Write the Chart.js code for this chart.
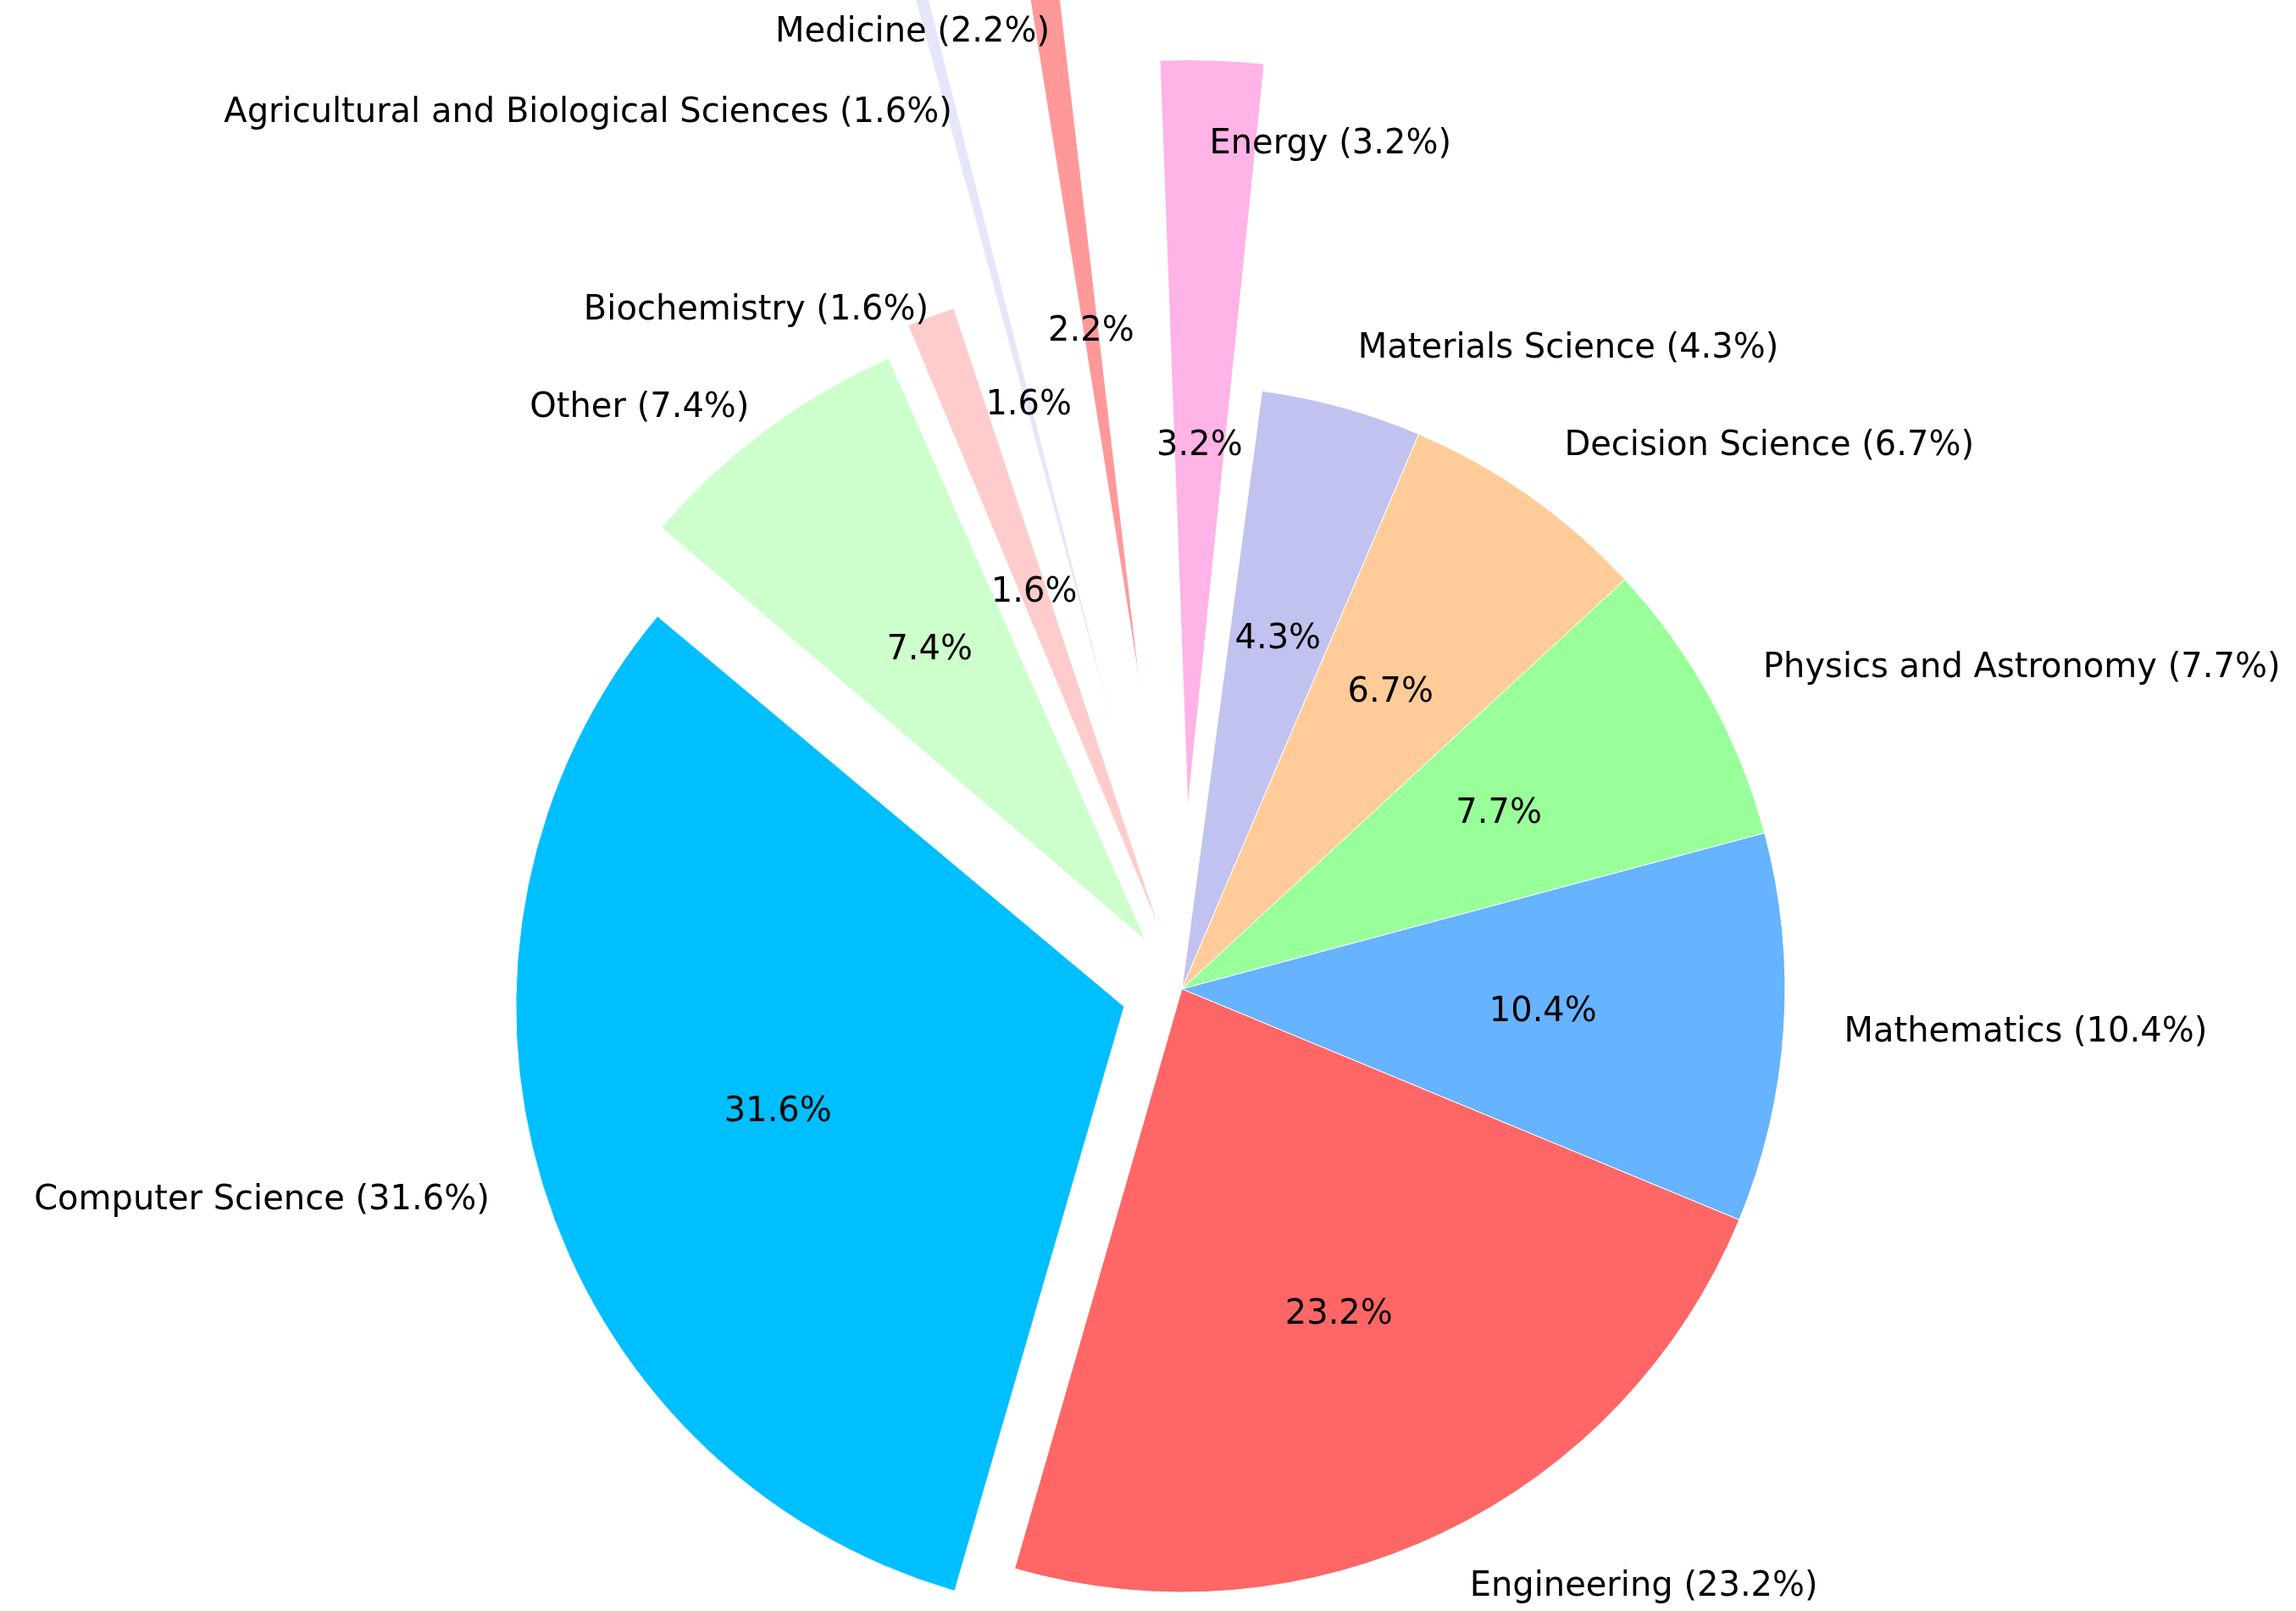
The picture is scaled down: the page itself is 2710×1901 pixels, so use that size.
<!DOCTYPE html>
<html><head><meta charset="utf-8">
<script src="https://cdn.jsdelivr.net/npm/chart.js@4/dist/chart.umd.min.js"></script>
<style>html,body{margin:0;padding:0;background:#fff}#wrap{width:2710px;height:1901px}</style>
</head><body><div id="wrap"><canvas id="c" width="2710" height="1901"></canvas></div>
<script>
const categories = ["Computer Science","Other","Biochemistry","Agricultural and Biological Sciences","Medicine","Energy","Materials Science","Decision Science","Physics and Astronomy","Mathematics","Engineering"];
const shares = [31.6,7.4,1.6,1.6,2.2,3.2,4.3,6.7,7.7,10.4,23.2];
const explode = [0.1,0.1,0.1,0.4,0.5,0.3,0,0,0,0,0];
const colors = ["#00bfff","#ccffcc","#ffcccc","#e6e6fa","#ff9999","#ffb3e6","#c2c2f0","#ffcc99","#99ff99","#66b3ff","#ff6666"];
const R = 712, OFFDIV = 4;
const FONT = "40px 'DejaVu Sans'";
const labelPlugin = {
  id:'lbl',
  afterDatasetsDraw(chart){
    const ctx = chart.ctx;
    const meta = chart.getDatasetMeta(0);
    ctx.save();
    ctx.font = FONT; ctx.fillStyle = '#000'; ctx.textBaseline = 'middle';
    meta.data.forEach((a,i)=>{
      const mid = (a.startAngle + a.endAngle)/2;
      const r = a.outerRadius;
      const off = explode[i]*r;
      const cx = a.x + Math.cos(mid)*off, cy = a.y + Math.sin(mid)*off;
      const lx = cx + Math.cos(mid)*r*1.1, ly = cy + Math.sin(mid)*r*1.1;
      ctx.textAlign = Math.cos(mid) >= 0 ? 'left' : 'right';
      ctx.fillText(categories[i] + ' (' + shares[i].toFixed(1) + '%)', lx, ly);
      ctx.textAlign = 'center';
      ctx.fillText(shares[i].toFixed(1) + '%', cx + Math.cos(mid)*r*0.6, cy + Math.sin(mid)*r*0.6);
    });
    ctx.restore();
  }
};
new Chart(document.getElementById('c'), {
  type:'pie',
  data:{labels:categories, datasets:[{data:shares, backgroundColor:colors, borderColor:'#ffffff', borderWidth:1,
    offset: explode.map(e=>e*R*OFFDIV)}]},
  options:{responsive:false, animation:false, rotation:196.1, radius:R,
    layout:{padding:{left:80,right:0,top:433,bottom:0}},
    plugins:{legend:{display:false}, tooltip:{enabled:false}}},
  plugins:[labelPlugin]
});
</script></body></html>
